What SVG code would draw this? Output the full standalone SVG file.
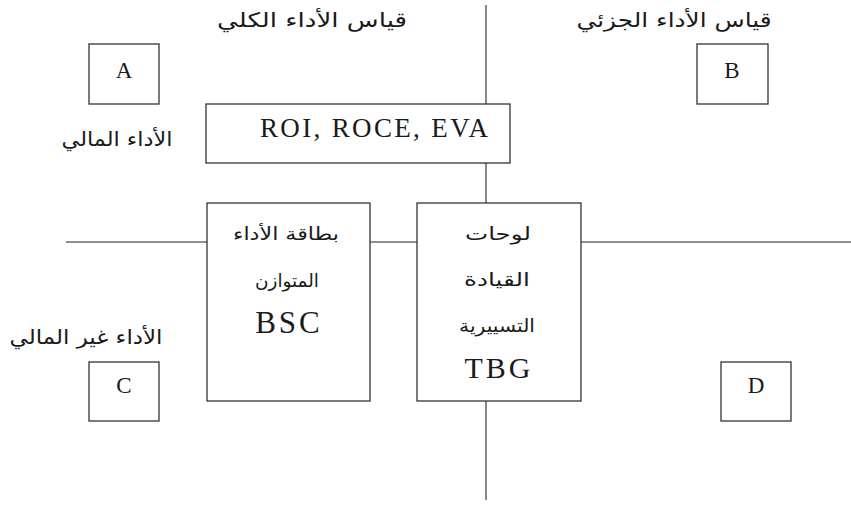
<svg xmlns="http://www.w3.org/2000/svg" width="851" height="505" viewBox="0 0 851 505">
  <style>
    .axis { stroke: #6a6a6a; stroke-width: 1.6; fill: none; }
    .box { fill: #ffffff; stroke: #333333; stroke-width: 1.3; }
    .lat { font-family: "Liberation Serif", "Times New Roman", serif; fill: #1a1a1a; text-anchor: middle; }
    .ar { font-family: "DejaVu Sans", "Noto Sans", sans-serif; fill: #1a1a1a; text-anchor: middle; direction: rtl; }
  </style>
  <rect width="851" height="505" fill="#ffffff"/>

  <!-- quadrant axes -->
  <g id="connectors">
    <line class="axis" x1="486" y1="5" x2="486" y2="500"/>
    <line class="axis" x1="66" y1="242" x2="851" y2="242"/>
  </g>

  <!-- quadrant headings -->
  <text class="ar" x="312" y="27" font-size="20" textLength="190" lengthAdjust="spacingAndGlyphs">قياس الأداء الكلي</text>
  <text class="ar" x="674" y="27" font-size="20" textLength="195" lengthAdjust="spacingAndGlyphs">قياس الأداء الجزئي</text>
  <text class="ar" x="117" y="146" font-size="20" textLength="111" lengthAdjust="spacingAndGlyphs">الأداء المالي</text>
  <text class="ar" x="86" y="344" font-size="20" textLength="153" lengthAdjust="spacingAndGlyphs">الأداء غير المالي</text>

  <g id="nodeA">
    <rect class="box" x="89" y="44" width="70" height="60"/>
    <text class="lat" x="124" y="78" font-size="23">A</text>
  </g>
  <g id="nodeB">
    <rect class="box" x="697" y="44" width="71" height="60"/>
    <text class="lat" x="732" y="78" font-size="23">B</text>
  </g>
  <g id="nodeC">
    <rect class="box" x="89" y="362" width="70" height="59"/>
    <text class="lat" x="124" y="393" font-size="23">C</text>
  </g>
  <g id="nodeD">
    <rect class="box" x="721" y="362" width="70" height="59"/>
    <text class="lat" x="756" y="393" font-size="23">D</text>
  </g>

  <g id="nodeFinancial">
    <rect class="box" x="206" y="104" width="304" height="59"/>
    <text class="lat" x="374" y="137" font-size="27" textLength="228" lengthAdjust="spacing">ROI, ROCE, EVA</text>
  </g>

  <g id="nodeBSC">
    <rect class="box" x="207" y="203" width="163" height="198"/>
    <text class="ar" x="286" y="240" font-size="18" textLength="106" lengthAdjust="spacingAndGlyphs">بطاقة الأداء</text>
    <text class="ar" x="287" y="287" font-size="18" textLength="64" lengthAdjust="spacingAndGlyphs">المتوازن</text>
    <text class="lat" x="289" y="333" font-size="31" letter-spacing="3">BSC</text>
  </g>

  <g id="nodeTBG">
    <rect class="box" x="417" y="203" width="164" height="198"/>
    <text class="ar" x="498" y="240" font-size="18" textLength="66" lengthAdjust="spacingAndGlyphs">لوحات</text>
    <text class="ar" x="497" y="286" font-size="18" textLength="66" lengthAdjust="spacingAndGlyphs">القيادة</text>
    <text class="ar" x="497" y="332" font-size="18" textLength="76" lengthAdjust="spacingAndGlyphs">التسييرية</text>
    <text class="lat" x="499" y="378" font-size="30" letter-spacing="3">TBG</text>
  </g>
</svg>
